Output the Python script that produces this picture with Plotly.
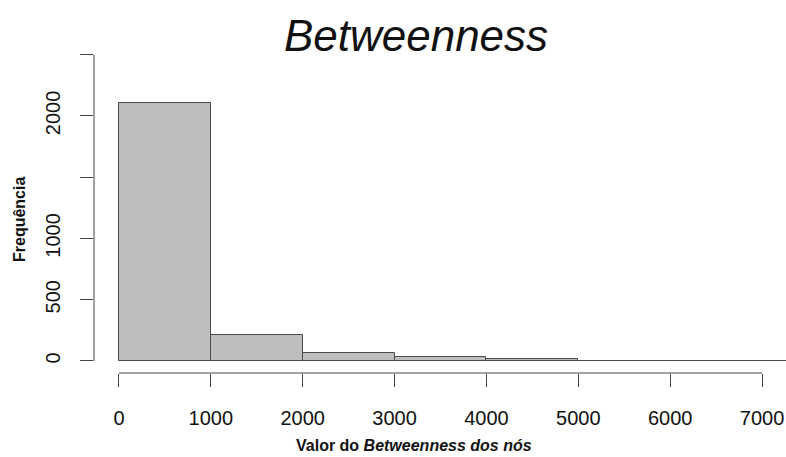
import plotly.graph_objects as go

# Data
bin_edges = [0, 1000, 2000, 3000, 4000, 5000, 6000, 7000, 8000]
counts = [2105, 210, 68, 33, 19, 4, 3, 2]
x_tick_vals = [0, 1000, 2000, 3000, 4000, 5000, 6000, 7000]
x_tick_text = ["0", "1000", "2000", "3000", "4000", "5000", "6000", "7000"]
y_tick_vals = [0, 500, 1000, 1500, 2000, 2500]
y_tick_text = ["0", "500", "1000", "", "2000", ""]

centers = [(a + b) / 2 for a, b in zip(bin_edges[:-1], bin_edges[1:])]
widths = [b - a for a, b in zip(bin_edges[:-1], bin_edges[1:])]

W, H = 786, 457
ml, mr, mt, mb = 94, 0, 40, 84
x_range = [-272, 7261]
y_range = [-98, 2620]

FONT = "Liberation Sans, Arial, Helvetica, sans-serif"
AX = "#444444"

fig = go.Figure()
fig.add_trace(go.Bar(
    x=centers, y=counts, width=widths,
    marker=dict(color="#bebebe", line=dict(color="#4a4a4a", width=1)),
    hoverinfo="x+y", showlegend=False,
))

fig.update_layout(
    width=W, height=H,
    margin=dict(l=ml, r=mr, t=mt, b=mb, pad=0),
    paper_bgcolor="white", plot_bgcolor="white",
    font=dict(family=FONT, color="#111111"),
    bargap=0,
    title=dict(
        text="<i>Betweenness</i>",
        font=dict(family=FONT, size=44, color="#111111"),
        xref="container", yref="container",
        x=416 / W, y=1 - 36 / H, xanchor="center", yanchor="middle",
    ),
    xaxis=dict(
        range=x_range, showgrid=False, zeroline=False, showline=False,
        tickmode="array", tickvals=x_tick_vals, ticktext=x_tick_text,
        ticks="outside", ticklen=13, tickwidth=1, tickcolor=AX,
        tickfont=dict(family=FONT, size=20, color="#111111"),
        ticklabelstandoff=14,
    ),
    yaxis=dict(
        range=y_range, showgrid=False, zeroline=False, showline=False,
        tickmode="array", tickvals=y_tick_vals, ticktext=y_tick_text,
        ticks="outside", ticklen=13, tickwidth=1, tickcolor=AX,
        tickangle=-90,
        tickfont=dict(family=FONT, size=20, color="#111111"),
        ticklabelstandoff=12,
    ),
)

# R-style axis lines spanning only first..last tick
fig.add_shape(type="line", xref="x", yref="paper",
              x0=x_tick_vals[0], x1=x_tick_vals[-1], y0=0, y1=0,
              line=dict(color=AX, width=1))
fig.add_shape(type="line", xref="paper", yref="y",
              x0=0, x1=0, y0=y_tick_vals[0], y1=y_tick_vals[-1],
              line=dict(color=AX, width=1))

plot_w = W - ml - mr
plot_h = H - mt - mb
fig.add_annotation(
    text="<b>Valor do <i>Betweenness dos nós</i></b>",
    xref="paper", yref="paper",
    x=(414 - ml) / plot_w, y=(H - mb - 445) / plot_h,
    xanchor="center", yanchor="middle", showarrow=False,
    font=dict(family=FONT, size=16, color="#111111"),
)
fig.add_annotation(
    text="<b>Frequência</b>",
    xref="paper", yref="paper",
    x=(19 - ml) / plot_w, y=(H - mb - 220) / plot_h,
    xanchor="center", yanchor="middle", showarrow=False, textangle=-90,
    font=dict(family=FONT, size=16, color="#111111"),
)

fig.write_html("out.html")
